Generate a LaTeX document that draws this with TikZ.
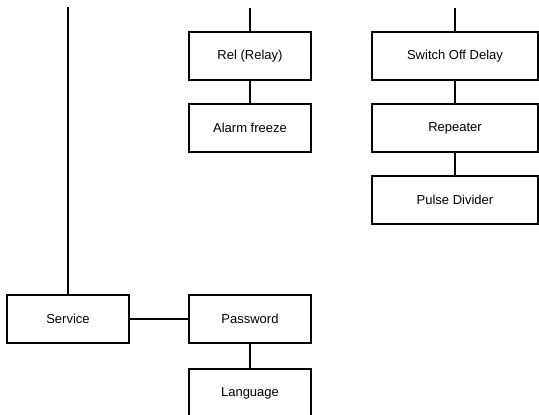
\documentclass[tikz,border=0pt]{standalone}
\usepackage{fontspec}
\setmainfont{Liberation Sans}
\begin{document}
\begin{tikzpicture}[x=1pt,y=-1pt,
  menubox/.style={draw=black, line width=2pt, rectangle, minimum width=122pt, minimum height=48pt, inner sep=0pt, font=\fontsize{13pt}{15pt}\selectfont},
  widebox/.style={menubox, minimum width=166pt},
  link/.style={draw=black, line width=2pt}]
\useasboundingbox (0,0) rectangle (539,415);
\node[menubox] (rel) at (250,56) {Rel (Relay)};
\node[menubox] (alarm) at (250,128) {Alarm freeze};
\node[widebox] (sod) at (455,56) {Switch Off Delay};
\node[widebox] (rep) at (455,128) {Repeater};
\node[widebox] (pulse) at (455,200) {Pulse Divider};
\node[menubox] (service) at (68,319) {Service};
\node[menubox] (pass) at (250,319) {Password};
\node[menubox] (lang) at (250,393) {Language};
\coordinate (topL) at (68,7);
\coordinate (topM) at (250,8);
\coordinate (topR) at (455,8);
\draw[link] (topL) -- (service.north);
\draw[link] (topM) -- (rel.north);
\draw[link] (rel.south) -- (alarm.north);
\draw[link] (topR) -- (sod.north);
\draw[link] (sod.south) -- (rep.north);
\draw[link] (rep.south) -- (pulse.north);
\draw[link] (service.east) -- (pass.west);
\draw[link] (pass.south) -- (lang.north);
\end{tikzpicture}
\end{document}
